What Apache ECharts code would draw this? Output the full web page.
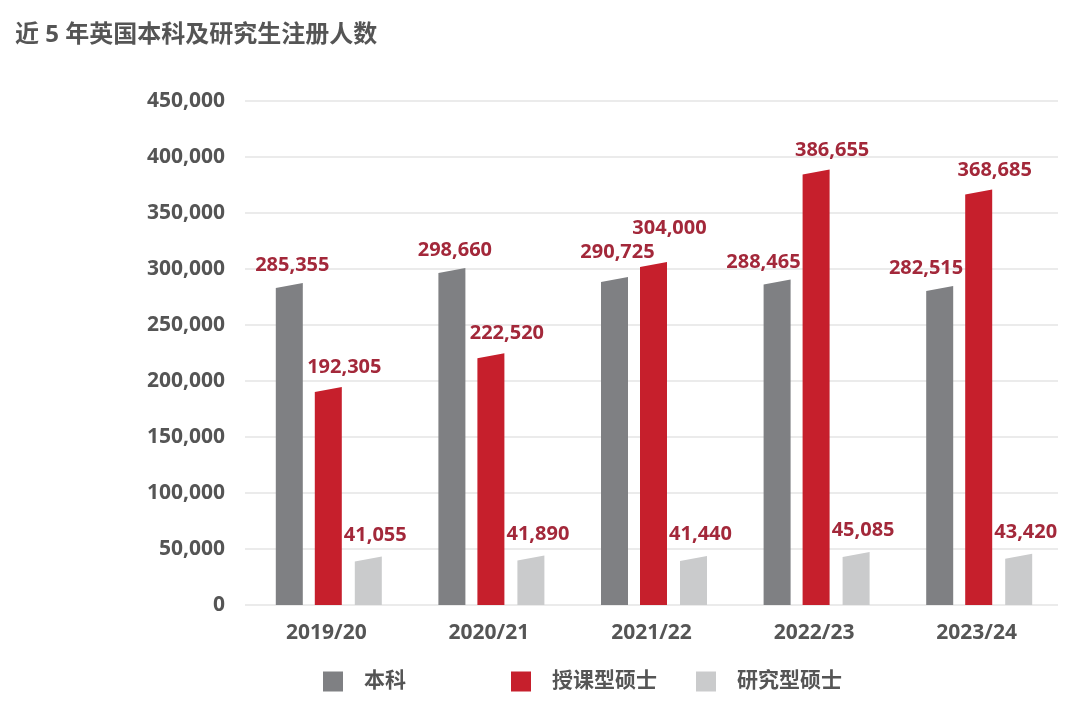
<!DOCTYPE html>
<html><head><meta charset="utf-8">
<script src="https://cdn.jsdelivr.net/npm/echarts@6/dist/echarts.min.js"></script>
<style>html,body{margin:0;padding:0;background:#fff}#c{width:1080px;height:710px}</style>
</head><body><div id="c"></div>
<script>
const categories = ['2019/20','2020/21','2021/22','2022/23','2023/24'];
const undergrad = [285355, 298660, 290725, 288465, 282515];
const taught = [192305, 222520, 304000, 386655, 368685];
const research = [41055, 41890, 41440, 45085, 43420];
const seriesNames = ['本科','授课型硕士','研究型硕士'];
const colors = ['#7f8083','#c61f2c','#cacbcc'];
const yTicks = [0,50000,100000,150000,200000,250000,300000,350000,400000,450000];

const FONT = '"Open Sans","Noto Sans CJK SC",sans-serif';
const LABEL_FONT = 'bold 20px ' + FONT;
const barW = 27;
const offsets = [-37, 2, 42];
const labelDx = [3, 16, 7];
const labelDy = [20, 22, 24];
const labelH = 20;

function fmt(v){return v.toLocaleString('en-US');}
const measureCtx = document.createElement('canvas').getContext('2d');
function textW(t){measureCtx.font = LABEL_FONT; return measureCtx.measureText(t).width;}

function makeSeries(idx, arr){
  return {
    type:'custom', name: seriesNames[idx],
    itemStyle:{color:colors[idx]},
    data: arr.map((v,i)=>[i,v]),
    encode:{x:0,y:1},
    renderItem:function(params, api){
      const top = api.coord([api.value(0), api.value(1)]);
      const base = api.coord([api.value(0), 0]);
      const cx = top[0] + offsets[idx];
      const x0 = cx - barW/2, x1 = cx + barW/2;
      const s = 2.5;
      return {type:'polygon', shape:{points:[[x0,base[1]],[x0,top[1]+s],[x1,top[1]-s],[x1,base[1]]]},
              style:{fill:colors[idx]}};
    }
  };
}

// labels drawn last; simple collision avoidance between a label and the next bar / label
const labelSeries = {
  type:'custom', silent:true,
  data: categories.map((c,i)=>[i, undergrad[i], taught[i], research[i]]),
  encode:{x:0,y:[1,2,3]},
  renderItem:function(params, api){
    const pts = [1,2,3].map(k=>api.coord([api.value(0), api.value(k)]));
    const L = [0,1,2].map(k=>{
      const t = fmt(api.value(k+1));
      return {t:t, w:textW(t), x:pts[k][0]+offsets[k]+labelDx[k], y:pts[k][1]-labelDy[k]};
    });
    // undergrad label vs taught bar
    const redLeft = pts[1][0] + offsets[1] - barW/2;
    const redTop = pts[1][1];
    const g = L[0];
    const overlapY = (g.y + labelH/2) - redTop;
    if (overlapY > 0 && g.x + g.w/2 > redLeft) {
      if (overlapY <= 20) g.y -= overlapY + 2;
      else g.x = redLeft - 2 - g.w/2;
    }
    // taught label vs undergrad label
    const r = L[1];
    if (r.x - r.w/2 < g.x + g.w/2 && r.y + labelH/2 > g.y - labelH/2 && r.y < g.y + labelH) {
      r.y = g.y - labelH - 4;
    }
    return {type:'group', children: L.map(l=>({type:'text', x:l.x, y:l.y,
      style:{text:l.t, fill:'#a3283a', font:LABEL_FONT, textAlign:'center', textVerticalAlign:'middle'}}))};
  }
};

function legendAt(name, left){
  return {
    data:[name], left:left, top:671, padding:0, itemWidth:20, itemHeight:20, icon:'rect',
    textStyle:{color:'#555', fontSize:21, fontWeight:'bold', fontFamily:FONT, padding:[0,0,0,16]}
  };
}

const chart = echarts.init(document.getElementById('c'));
chart.setOption({
  backgroundColor:'#fff',
  animation:false,
  title:{text:'近 5 年英国本科及研究生注册人数', left:10, top:18,
    textStyle:{color:'#555', fontSize:24, fontWeight:'bold', fontFamily:FONT}},
  legend:[legendAt(seriesNames[0],323), legendAt(seriesNames[1],511), legendAt(seriesNames[2],696)],
  grid:{left:245, right:22, top:101, bottom:105},
  xAxis:{type:'category', data:categories,
    axisLine:{show:false}, axisTick:{show:false},
    axisLabel:{color:'#555', fontSize:21, fontWeight:'bold', fontFamily:FONT, margin:18}},
  yAxis:{type:'value', min:0, max:450000, interval:50000,
    axisLine:{show:false}, axisTick:{show:false},
    splitLine:{lineStyle:{color:'#ebebeb', width:2}},
    axisLabel:{color:'#555', fontSize:21, fontWeight:'bold', fontFamily:FONT, margin:20,
      formatter:v=>fmt(v)}},
  series:[makeSeries(0,undergrad), makeSeries(1,taught), makeSeries(2,research), labelSeries]
});
</script></body></html>
